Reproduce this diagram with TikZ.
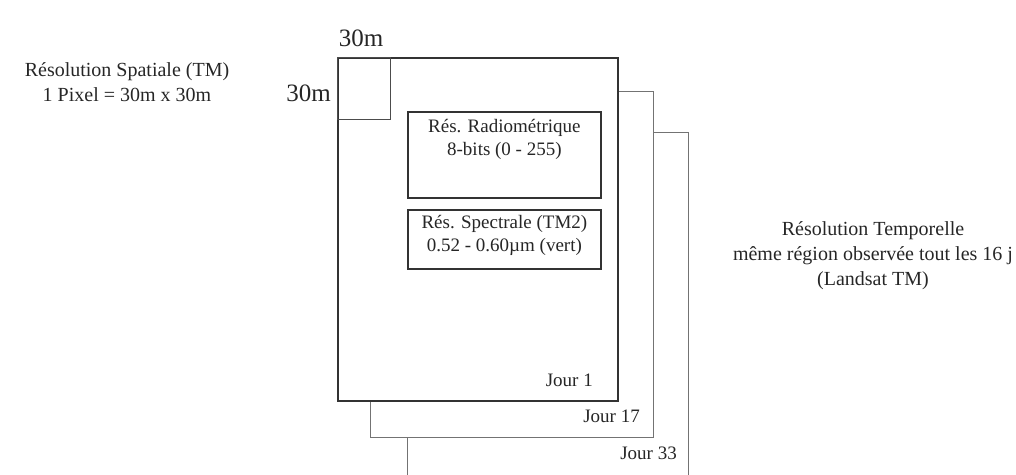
\documentclass[tikz,border=0pt]{standalone}
\usepackage{fontspec}
\setmainfont{Liberation Serif}
\usetikzlibrary{positioning}

\begin{document}
\begin{tikzpicture}[x=1pt, y=-1pt, text=black!85,
    jour/.style={draw=black!55, line width=0.9pt, fill=white, anchor=north west, inner sep=0pt},
    jourone/.style={jour, draw=black!80, line width=1.8pt},
    resbox/.style={draw=black!80, line width=1.8pt, anchor=north west, inner sep=0pt},
    lbl/.style={font=\fontsize{19}{23}\selectfont, align=center, inner sep=0pt},
    side/.style={font=\fontsize{20}{25}\selectfont, align=center, inner sep=0pt},
    dim/.style={font=\fontsize{25}{28}\selectfont, inner sep=0pt}]
  \useasboundingbox (0,0) rectangle (1016,474);
  \clip (0,0) rectangle (1016,474);
  % three acquisitions of the same scene, stacked back to front
  \node[jour, minimum width=281pt, minimum height=378pt] (jour33) at (407,132) {};
  \node[jour, minimum width=283pt, minimum height=346pt] (jour17) at (370,91) {};
  \node[jourone, minimum width=280pt, minimum height=343pt] (jour1) at (337,57) {};
  \node[lbl, anchor=east] (jour1lbl) at (593,380) {Jour 1};
  \node[lbl, anchor=east] (jour17lbl) at (640,416) {Jour 17};
  \node[lbl, anchor=east] (jour33lbl) at (677,453) {Jour 33};
  % one pixel in the corner
  \node[draw=black!70, line width=0.9pt, anchor=north west, inner sep=0pt,
        minimum width=53pt, minimum height=62pt] (pixel) at (337,57) {};
  \node[dim] (pixw) at (361,38) {30m};
  \node[dim, anchor=east] (pixh) at (331,93) {30m};
  % radiometric and spectral resolution
  \node[resbox, minimum width=193pt, minimum height=86pt] (radio) at (407,111) {};
  \node[lbl, below=8pt of radio.north] (radiotxt) {Rés. Radiométrique\\8-bits (0 - 255)};
  \node[resbox, minimum width=193pt, minimum height=59pt] (spectral) at (407,209) {};
  \node[lbl, below=6pt of spectral.north] (spectraltxt) {Rés. Spectrale (TM2)\\0.52 - 0.60µm (vert)};
  % side notes
  \node[side] (spatial) at (127,82) {Résolution Spatiale (TM)\\1 Pixel = 30m x 30m};
  \node[side] (temporal) at (873,256) {Résolution Temporelle\\même région observée tout les 16 j\\(Landsat TM)};
\end{tikzpicture}
\end{document}
